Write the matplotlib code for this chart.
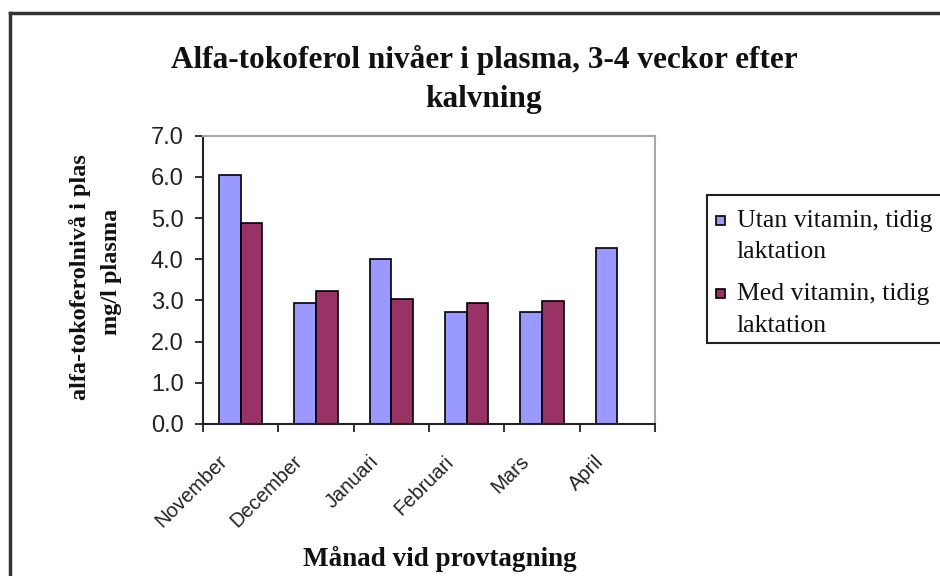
import matplotlib
matplotlib.use('Agg')
import matplotlib.pyplot as plt
import matplotlib.transforms as mtransforms
import numpy as np
from matplotlib.patches import Rectangle
from matplotlib.lines import Line2D

months = ['November', 'December', 'Januari', 'Februari', 'Mars', 'April']
utan_vitamin = [6.04, 2.95, 4.0, 2.72, 2.72, 4.28]
med_vitamin = [4.89, 3.23, 3.04, 2.94, 2.98, np.nan]
series_names = [['Utan vitamin, tidig', 'laktation'], ['Med vitamin, tidig', 'laktation']]
series_colors = ['#9999ff', '#993366']

SERIF = 'Liberation Serif'
SANS = 'Liberation Sans'
W, H = 940, 576


def fx(px):
  return px / W


def fy(px):
  return 1 - px / H


fig = plt.figure(figsize=(9.4, 5.76), dpi=100)
ax = fig.add_axes([fx(203), fy(424), 452 / W, (424 - 135.7) / H])

x = np.arange(len(months))
bw = 1 / 3.5
for i, (vals, col) in enumerate(zip([utan_vitamin, med_vitamin], series_colors)):
  ax.bar(x + (i - 0.5) * bw, vals, bw, color=col, edgecolor='black', linewidth=1.2)

ax.set_xlim(-0.5, len(months) - 0.5)
ax.set_ylim(0, 7)
ax.set_yticks(np.arange(0, 7.1, 1))
ax.set_yticklabels([f'{v:.1f}' for v in np.arange(0, 7.1, 1)], fontfamily=SANS,
                   fontsize=17, color='#222222')
ax.tick_params(axis='y', length=6, width=1.3, pad=8, color='#222222')

# ticks sit between categories; month names are drawn as rotated texts
ax.set_xticks(np.arange(-0.5, len(months), 1))
ax.set_xticklabels([])
ax.tick_params(axis='x', length=6, width=1.3, color='#222222')
lab_tr = ax.get_xaxis_transform() + mtransforms.ScaledTranslation(-0.23, -0.28, fig.dpi_scale_trans)
for xi, m in zip(x, months):
  ax.text(xi, 0, m, transform=lab_tr, rotation=45, ha='right', va='top',
          rotation_mode='anchor', fontfamily=SANS, fontsize=14.5, color='#222222')

for s in ['left', 'bottom']:
  ax.spines[s].set_color('#222222')
  ax.spines[s].set_linewidth(1.5)
for s in ['top', 'right']:
  ax.spines[s].set_color('#a8a8a8')
  ax.spines[s].set_linewidth(1.5)

title_kw = dict(ha='center', va='baseline', fontfamily=SERIF, fontweight='bold',
                fontsize=22.5, color='#111111')
fig.text(fx(484), fy(68), 'Alfa-tokoferol nivåer i plasma, 3-4 veckor efter', **title_kw)
fig.text(fx(484), fy(107), 'kalvning', **title_kw)

ylab_kw = dict(rotation=90, ha='center', va='center', fontfamily=SERIF,
               fontweight='bold', fontsize=17.5, color='#111111')
fig.text(fx(80), fy(277), 'alfa-tokoferolnivå i plas', **ylab_kw)
fig.text(fx(112), fy(272), 'mg/l plasma', **ylab_kw)

fig.text(fx(440), fy(566), 'Månad vid provtagning', ha='center', va='baseline',
         fontfamily=SERIF, fontweight='bold', fontsize=19.5, color='#111111')

# legend box, clipped by the right edge
fig.add_artist(Rectangle((fx(707), fy(343)), 260 / W, 148 / H, transform=fig.transFigure,
                         facecolor='white', edgecolor='#222222', linewidth=1.5))
for name, col, yb in zip(series_names, series_colors, [227, 300]):
  fig.add_artist(Rectangle((fx(716), fy(yb - 2)), 9 / W, 9 / H, transform=fig.transFigure,
                           facecolor=col, edgecolor='black', linewidth=1.2))
  for k, line in enumerate(name):
    fig.text(fx(737), fy(yb + 31.5 * k), line, ha='left', va='baseline', fontfamily=SERIF,
             fontsize=18.5, color='#111111')

# outer frame, only top and left edges are visible
fig.add_artist(Line2D([fx(9.5), 1], [fy(12.5)] * 2, transform=fig.transFigure,
                      color='#333333', linewidth=2.5))
fig.add_artist(Line2D([fx(9.5)] * 2, [0, fy(12.5)], transform=fig.transFigure,
                      color='#333333', linewidth=2.5))

fig.savefig('out.png', dpi=100)
